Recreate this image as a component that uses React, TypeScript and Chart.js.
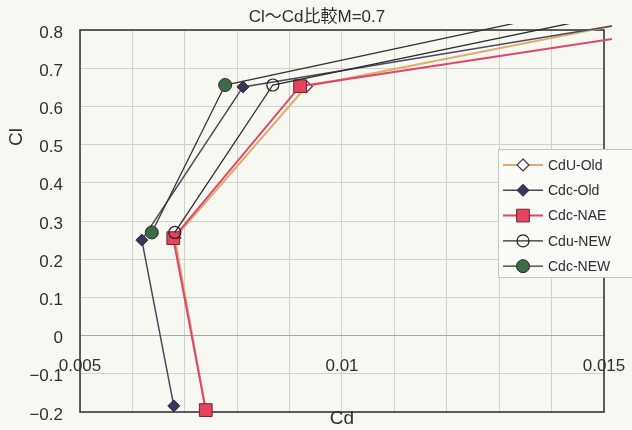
import React, { useEffect, useRef } from 'react';
import { Chart, registerables } from 'chart.js';

Chart.register(...registerables);

// ---- data ----
const chartTitle = 'Cl～Cd比較M=0.7';
const xAxisTitle = 'Cd';
const yAxisTitle = 'Cl';
const seriesNames = ['CdU-Old', 'Cdc-Old', 'Cdc-NAE', 'Cdu-NEW', 'Cdc-NEW'];

const cduOldCd = [0.0074, 0.00681, 0.00932, 0.0166];
const cduOldCl = [-0.195, 0.256, 0.652, 0.85];
const cdcOldCd = [0.00679, 0.00618, 0.00811, 0.0169];
const cdcOldCl = [-0.184, 0.25, 0.651, 0.85];
const cdcNaeCd = [0.0074, 0.00678, 0.0092, 0.0187];
const cdcNaeCl = [-0.195, 0.255, 0.653, 0.85];
const cduNewCd = [0.00681, 0.00868, 0.0155];
const cduNewCl = [0.27, 0.656, 0.85];
const cdcNewCd = [0.00637, 0.00777, 0.0144];
const cdcNewCl = [0.27, 0.656, 0.85];

const xMin = 0.005;
const xMax = 0.015;
const xGridStep = 0.001;
const xTickLabels = [0.005, 0.01, 0.015];
const yMin = -0.2;
const yMax = 0.8;
const yStep = 0.1;

// ---- styles ----
const seriesCd = [cduOldCd, cdcOldCd, cdcNaeCd, cduNewCd, cdcNewCd];
const seriesCl = [cduOldCl, cdcOldCl, cdcNaeCl, cduNewCl, cdcNewCl];
const lineColors = ['#dcae6e', '#4a4858', '#e0456a', '#2a2a2a', '#333333'];
const lineWidths = [2, 1.5, 2, 1.3, 1.3];
const pointStyles = ['rectRot', 'rectRot', 'rect', 'circle', 'circle'];
const pointRadii = [6, 6, 9, 6, 6.5];
const pointFills = ['#ffffff', '#3b3656', '#e8435e', 'rgba(0,0,0,0)', '#3d6a48'];
const pointBorders = ['#3c3458', '#2a2540', '#6a2a35', '#222222', '#2a2a2a'];
const pointBorderWidths = [1.2, 1, 1, 1.2, 1];

const BG = '#f8f8f3';
const TEXT = '#2e2e2e';
const LATIN = "'Liberation Sans', 'Noto Sans CJK JP', sans-serif";

function drawMarker(ctx: CanvasRenderingContext2D, i: number, x: number, y: number) {
  const r = pointRadii[i];
  ctx.save();
  ctx.beginPath();
  const st = pointStyles[i];
  if (st === 'circle') {
    ctx.arc(x, y, r, 0, Math.PI * 2);
  } else if (st === 'rect') {
    const s = r * Math.SQRT1_2;
    ctx.rect(x - s, y - s, 2 * s, 2 * s);
  } else {
    ctx.moveTo(x, y - r);
    ctx.lineTo(x + r, y);
    ctx.lineTo(x, y + r);
    ctx.lineTo(x - r, y);
    ctx.closePath();
  }
  ctx.fillStyle = pointFills[i];
  ctx.fill();
  ctx.lineWidth = pointBorderWidths[i];
  ctx.strokeStyle = pointBorders[i];
  ctx.stroke();
  ctx.restore();
}

const zeroPadding = (s: any) => {
  s.paddingTop = 0;
  s.paddingBottom = 0;
  s.paddingLeft = 0;
  s.paddingRight = 0;
};

const decor = {
  id: 'decor',
  beforeDatasetsDraw(chart: any) {
    const { ctx, chartArea: a } = chart;
    ctx.save();
    ctx.strokeStyle = '#3a3a3a';
    ctx.lineWidth = 1.6;
    ctx.strokeRect(a.left, a.top, a.right - a.left, a.bottom - a.top);
    ctx.restore();
  },
  afterDraw(chart: any) {
    const { ctx, chartArea: a } = chart;
    const xs = chart.scales.x;
    const ys = chart.scales.y;
    ctx.save();
    ctx.fillStyle = TEXT;
    // title
    ctx.font = `17px ${LATIN}`;
    ctx.textAlign = 'center';
    ctx.textBaseline = 'middle';
    ctx.fillText(chartTitle, chart.width / 2 + 1, 17);
    // x tick labels, placed below the y = 0 axis
    ctx.font = `17px ${LATIN}`;
    const y0 = ys.getPixelForValue(0);
    xTickLabels.forEach((v) => {
      ctx.fillText(String(v), xs.getPixelForValue(v), y0 + 31);
    });
    // x title
    ctx.font = `19px ${LATIN}`;
    ctx.fillText(xAxisTitle, (a.left + a.right) / 2, a.bottom + 7);
    // y title
    ctx.save();
    ctx.translate(17, a.top + 107);
    ctx.rotate(-Math.PI / 2);
    ctx.fillText(yAxisTitle, 0, 0);
    ctx.restore();

    // legend
    const lx = a.right - 106;
    const ly = a.top + 119;
    const lh = 128;
    ctx.fillStyle = '#fafaf6';
    ctx.fillRect(lx, ly, 200, lh);
    ctx.strokeStyle = '#c4c4c0';
    ctx.lineWidth = 1;
    ctx.strokeRect(lx + 0.5, ly + 0.5, 200, lh);
    ctx.font = `14px ${LATIN}`;
    ctx.textAlign = 'left';
    seriesNames.forEach((name, i) => {
      const ry = ly + 16 + i * 25.3;
      ctx.beginPath();
      ctx.moveTo(lx + 5, ry);
      ctx.lineTo(lx + 45, ry);
      ctx.strokeStyle = lineColors[i];
      ctx.lineWidth = lineWidths[i];
      ctx.stroke();
      drawMarker(ctx, i, lx + 25, ry);
      ctx.fillStyle = TEXT;
      ctx.fillText(name, lx + 50, ry + 1);
    });
    ctx.restore();
  },
};

export default function App() {
  const canvasRef = useRef<HTMLCanvasElement | null>(null);

  useEffect(() => {
    const canvas = canvasRef.current;
    if (!canvas) return;
    const datasets = seriesNames.map((name, i) => ({
      label: name,
      data: seriesCd[i].map((cd, k) => ({ x: cd, y: seriesCl[i][k] })),
      showLine: true,
      borderColor: lineColors[i],
      borderWidth: lineWidths[i],
      pointStyle: pointStyles[i] as any,
      pointRadius: pointRadii[i],
      pointBackgroundColor: pointFills[i],
      pointBorderColor: pointBorders[i],
      pointBorderWidth: pointBorderWidths[i],
      tension: 0,
      order: seriesNames.length - i,
      clip: { left: 10, top: 6, right: 8, bottom: 10 },
    }));

    const chart = new Chart(canvas, {
      type: 'scatter',
      data: { datasets },
      plugins: [decor],
      options: {
        animation: false,
        responsive: false,
        devicePixelRatio: 1,
        layout: { padding: { left: 8, top: 30, right: 28, bottom: 0 } },
        plugins: {
          legend: { display: false },
          tooltip: { enabled: false },
          title: { display: false },
        },
        scales: {
          x: {
            type: 'linear',
            min: xMin,
            max: xMax,
            ticks: { display: false, stepSize: xGridStep },
            grid: { color: '#d0d0cc', lineWidth: 1, drawTicks: false },
            border: { display: false },
            afterFit: (s: any) => {
              s.height = 18;
              zeroPadding(s);
            },
          },
          y: {
            type: 'linear',
            min: yMin,
            max: yMax,
            ticks: {
              stepSize: yStep,
              padding: 17,
              labelOffset: 3,
              color: TEXT,
              font: { family: LATIN, size: 17 },
              callback: (v: any) => {
                const n = Math.round(Number(v) * 10) / 10;
                if (n === 0) return '0';
                const s = Math.abs(n).toFixed(1);
                return n < 0 ? '−' + s : s;
              },
            },
            grid: {
              color: (c: any) => (Math.abs(c.tick?.value ?? 1) < 1e-9 ? '#a5a5a5' : '#d0d0cc'),
              lineWidth: 1,
              drawTicks: false,
            },
            border: { display: false },
            afterFit: (s: any) => {
              s.width = 72;
              zeroPadding(s);
            },
          },
        },
      },
    });
    return () => chart.destroy();
  }, []);

  return (
    <div style={{ position: 'absolute', left: 0, top: 0, width: 632, height: 430, background: BG, overflow: 'hidden' }}>
      <canvas ref={canvasRef} width={632} height={430} style={{ display: 'block', width: 632, height: 430 }} />
    </div>
  );
}
